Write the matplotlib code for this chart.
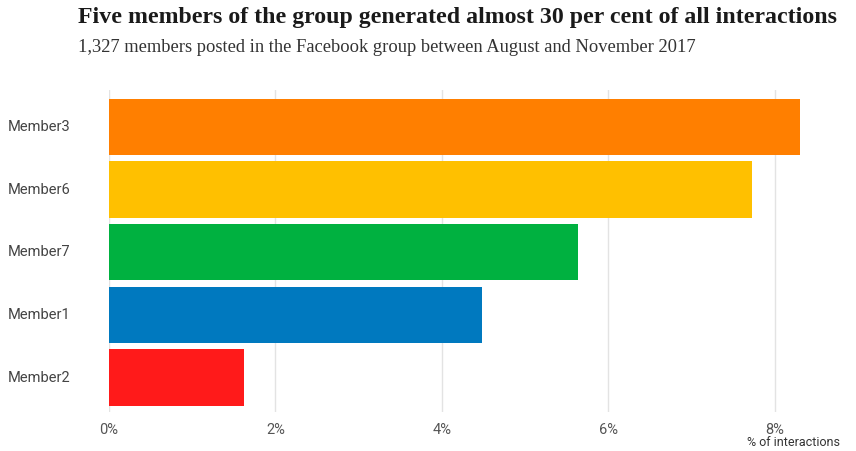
import matplotlib.pyplot as plt
import matplotlib.ticker as mticker

# === Data ===
members = ['Member3', 'Member6', 'Member7', 'Member1', 'Member2']
share = [8.30, 7.73, 5.64, 4.48, 1.62]
colors = ['#FF7F00', '#FFC000', '#00B140', '#0079BF', '#FF1A1A']
xticks = [0, 2, 4, 6, 8]

W, H = 856, 451
fig = plt.figure(figsize=(W / 100, H / 100), dpi=100)

# axes in pixel coords: left 109, right 833, top 90, bottom 412
ax = fig.add_axes([109 / W, 1 - 412 / H, (833 - 109) / W, (412 - 90) / H])

ypos = list(range(len(members)))
ax.barh(ypos, share, height=0.9, color=colors, zorder=2)
ax.set_ylim(len(members) - 1 + 0.55, -0.59)
ax.set_xlim(0, 8.7)

ax.set_xticks(xticks)
ax.xaxis.set_major_formatter(mticker.FuncFormatter(lambda v, p: f'{v:.0f}%'))
ax.grid(axis='x', color='#e3e3e3', linewidth=1, zorder=0)
ax.tick_params(axis='x', length=0, pad=8, labelsize=10.5, labelcolor='#555555')
ax.tick_params(axis='y', length=0)
ax.set_yticks(ypos)
ax.set_yticklabels([])
for sp in ax.spines.values():
    sp.set_visible(False)
for lbl in ax.get_xticklabels():
    lbl.set_fontfamily('Roboto')

# y labels left aligned at the figure edge
for y, name in zip(ypos, members):
    ax.annotate(name, xy=(0, y), xycoords=('figure fraction', 'data'),
                xytext=(8, 0), textcoords='offset pixels',
                ha='left', va='center', fontsize=10.5, color='#444444',
                fontfamily='Roboto')

fig.text(78 / W, 1 - 18 / H, 'Five members of the group generated almost 30 per cent of all interactions',
         ha='left', va='center', fontsize=17.2, fontweight='bold',
         fontfamily='Liberation Serif', color='#1a1a1a')
fig.text(78 / W, 1 - 47 / H, '1,327 members posted in the Facebook group between August and November 2017',
         ha='left', va='center', fontsize=13.3, fontfamily='Liberation Serif', color='#333333')
fig.text(840 / W, 1 - 442 / H, '% of interactions', ha='right', va='center',
         fontsize=9, fontfamily='Roboto', color='#333333')

fig.savefig('out.png', dpi=100)
